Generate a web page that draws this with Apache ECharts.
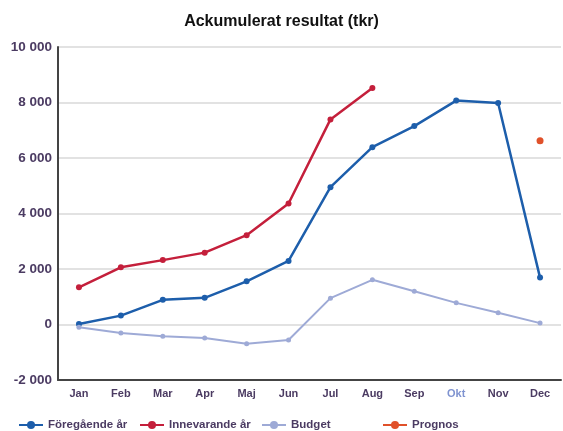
<!DOCTYPE html>
<html><head><meta charset="utf-8">
<script src="https://cdn.jsdelivr.net/npm/echarts@6/dist/echarts.min.js"></script>
<style>html,body{margin:0;padding:0;background:#fff}#c{width:563px;height:431px}</style>
</head><body><div id="c"></div>
<script>
const months = ['Jan','Feb','Mar','Apr','Maj','Jun','Jul','Aug','Sep','Okt','Nov','Dec'];
const foregaende = [20, 320, 890, 960, 1555, 2290, 4950, 6390, 7150, 8070, 7980, 1690];
const innevarande = [1340, 2060, 2320, 2590, 3220, 4360, 7390, 8520, null, null, null, null];
const budget = [-100, -310, -420, -490, -690, -560, 950, 1610, 1200, 780, 420, 50];
const prognos = [null, null, null, null, null, null, null, null, null, null, null, 6620];
const yTicks = [-2000, 0, 2000, 4000, 6000, 8000, 10000];
const seriesNames = ['Föregående år', 'Innevarande år', 'Budget', 'Prognos'];

const labelColor = '#4b3b62';
const chart = echarts.init(document.getElementById('c'), null, {renderer:'canvas'});
const fmt = v => { const s = String(Math.abs(v)); const t = s.length > 3 ? s.slice(0, s.length-3) + ' ' + s.slice(-3) : s; return (v < 0 ? '-' : '') + t; };
const legendLeft = [13, 134, 256, 377];
chart.setOption({
  animation: false,
  backgroundColor: '#fff',
  title: { text: 'Ackumulerat resultat (tkr)', left: 'center', top: 9,
    textStyle: { fontFamily: 'Liberation Sans', fontWeight: 'bold', fontSize: 16, color: '#111' } },
  legend: seriesNames.map((n, i) => ({
    top: 414, left: legendLeft[i], itemWidth: 24, itemHeight: 10, itemGap: 4,
    textStyle: { fontFamily: 'Liberation Sans', fontSize: 11.5, color: labelColor, fontWeight: 'bold' },
    data: [n]
  })),
  grid: { left: 58, right: 2, top: 47, bottom: 51 },
  xAxis: {
    type: 'category', boundaryGap: true,
    data: months.map(m => m === 'Okt' ? { value: m, textStyle: { color: '#7f93d0' } } : m),
    axisLine: { onZero: false, lineStyle: { color: '#444', width: 2 } },
    axisTick: { show: false },
    axisLabel: { color: labelColor, fontFamily: 'Liberation Sans', fontWeight: 'bold', fontSize: 11, margin: 8 },
    splitLine: { show: false }
  },
  yAxis: {
    type: 'value', min: yTicks[0], max: yTicks[yTicks.length-1], interval: 2000,
    axisLine: { show: true, lineStyle: { color: '#444', width: 2 } },
    axisTick: { show: false },
    axisLabel: { color: labelColor, fontFamily: 'Liberation Sans', fontWeight: 'bold', fontSize: 13.5, margin: 6, formatter: fmt },
    splitLine: { lineStyle: { color: '#d8d8d8', width: 1.5 } }
  },
  series: [
    { name: seriesNames[0], type: 'line', data: foregaende, color: '#1d5eab',
      lineStyle: { width: 2.5 }, symbol: 'circle', symbolSize: 6, showAllSymbol: true },
    { name: seriesNames[1], type: 'line', data: innevarande, color: '#c41f3b',
      lineStyle: { width: 2.5 }, symbol: 'circle', symbolSize: 6, showAllSymbol: true },
    { name: seriesNames[2], type: 'line', data: budget, color: '#9eaad6',
      lineStyle: { width: 2 }, symbol: 'circle', symbolSize: 5, showAllSymbol: true },
    { name: seriesNames[3], type: 'line', data: prognos, color: '#e0512a',
      lineStyle: { width: 2.5 }, symbol: 'circle', symbolSize: 7, showAllSymbol: true }
  ]
});
</script></body></html>
